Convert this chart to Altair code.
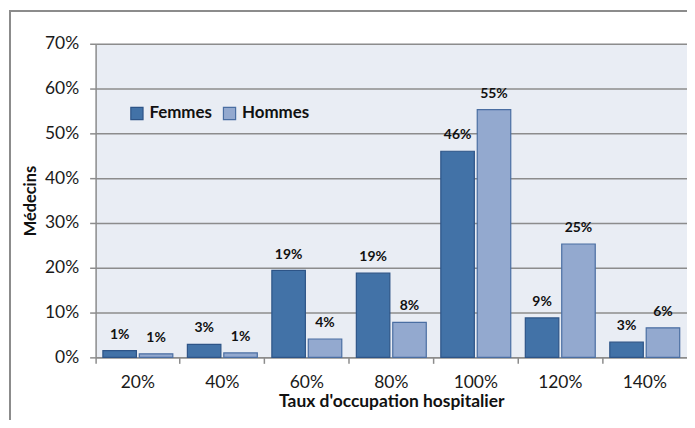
import altair as alt
import pandas as pd

categories = ["20%", "40%", "60%", "80%", "100%", "120%", "140%"]
femmes = [1.5, 2.9, 19.4, 18.8, 46.0, 8.8, 3.4]
hommes = [0.8, 1.0, 4.1, 7.8, 55.3, 25.3, 6.6]
femmes_labels = ["1%", "3%", "19%", "19%", "46%", "9%", "3%"]
hommes_labels = ["1%", "1%", "4%", "8%", "55%", "25%", "6%"]
series = ["Femmes", "Hommes"]

rows = []
for i, c in enumerate(categories):
    rows.append({"cat": c, "sexe": "Femmes", "val": femmes[i] / 100, "lab": femmes_labels[i]})
    rows.append({"cat": c, "sexe": "Hommes", "val": hommes[i] / 100, "lab": hommes_labels[i]})
df = pd.DataFrame(rows)

FONT = "Lato"
W, H = 594, 315

x = alt.X("cat:N", sort=categories, title="Taux d'occupation hospitalier",
          scale=alt.Scale(paddingInner=0, paddingOuter=0),
          axis=alt.Axis(labelAngle=0, bandPosition=0, tickSize=6, tickColor="#8c8c8c",
                        tickWidth=1.5, domainColor="#8c8c8c", domainWidth=1.5,
                        labelFont=FONT, labelFontSize=17.5, labelColor="#1a1a1a",
                        labelPadding=10, titleFont=FONT, titleFontSize=17.5,
                        titleFontWeight="bold", titleColor="#111", titlePadding=2))
xo = alt.XOffset("sexe:N", sort=series,
                 scale=alt.Scale(paddingInner=0.08, paddingOuter=0.2))

bars = alt.Chart(df).mark_bar(strokeWidth=1.2).encode(
    x=x,
    xOffset=xo,
    y=alt.Y("val:Q", title="Médecins",
            scale=alt.Scale(domain=[0, 0.7]),
            axis=alt.Axis(format=".0%", values=[0, 0.1, 0.2, 0.3, 0.4, 0.5, 0.6, 0.7],
                          tickSize=6, tickColor="#8c8c8c", tickWidth=1.5,
                          domainColor="#8c8c8c", domainWidth=1.5,
                          gridColor="#8c8c8c", gridWidth=1.5,
                          labelFont=FONT, labelFontSize=17.5, labelColor="#1a1a1a",
                          labelPadding=11, titleFont=FONT, titleFontSize=16.5,
                          titleFontWeight="bold", titleColor="#111", titlePadding=6)),
    fill=alt.Fill("sexe:N", sort=series,
                  scale=alt.Scale(domain=series, range=["#4272A7", "#93A9CF"]),
                  legend=alt.Legend(title=None, orient="none", legendX=33, legendY=61,
                                    direction="horizontal", symbolType="square",
                                    symbolSize=150, symbolStrokeWidth=1.2,
                                    symbolStrokeColor="#2D5487",
                                    labelFont=FONT, labelFontSize=17,
                                    labelFontWeight="bold", labelColor="#111",
                                    labelOffset=4, columnPadding=8)),
    stroke=alt.Stroke("sexe:N", sort=series,
                      scale=alt.Scale(domain=series, range=["#2D5487", "#4A6EA2"]),
                      legend=None),
)

texts = alt.Chart(df).mark_text(font=FONT, fontSize=14, fontWeight="bold",
                                color="#111", dy=-16, baseline="middle").encode(
    x=alt.X("cat:N", sort=categories),
    xOffset=xo,
    y=alt.Y("val:Q"),
    text="lab:N",
)

frame = alt.Chart(df).mark_rect(fill=None, stroke="#8c8c8c", strokeWidth=1.5).encode(
    x=alt.value(-86), x2=alt.value(W + 60), y=alt.value(-33), y2=alt.value(H + 150)
)

chart = alt.layer(frame, bars, texts).properties(
    width=W, height=H,
    autosize=alt.AutoSizeParams(type="none"),
    padding={"left": 88, "top": 35, "right": 0, "bottom": 62},
    background="white",
).configure_view(fill="#E9EDF4", stroke=None)

chart.save("out.html", embed_options={"renderer": "svg", "actions": False})
